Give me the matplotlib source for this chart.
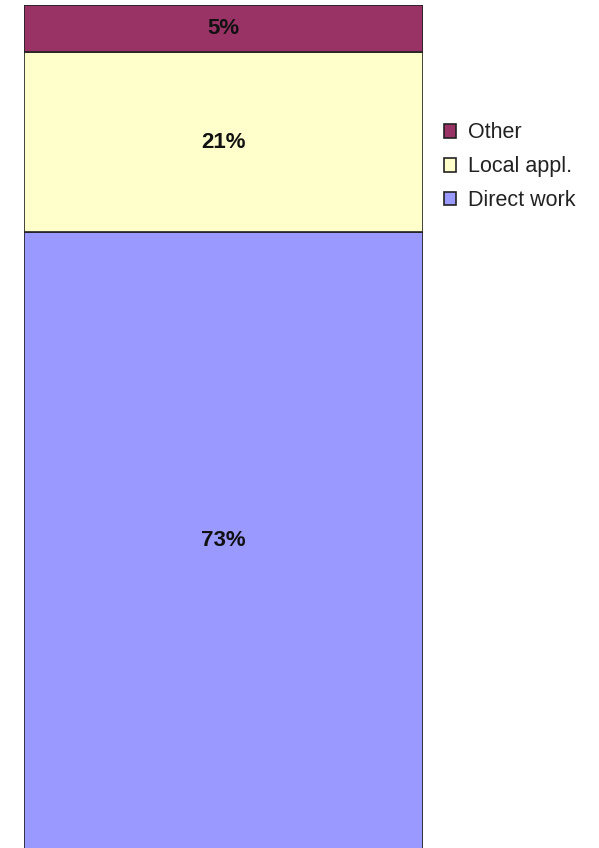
import matplotlib.pyplot as plt

categories = ["Direct work", "Local appl.", "Other"]
shares = [73.1, 21.3, 5.6]
labels = ["73%", "21%", "5%"]
colors = ["#9999FF", "#FFFFCC", "#993366"]

plt.rcParams['font.family'] = ['Liberation Sans', 'DejaVu Sans']

fig = plt.figure(figsize=(5.99, 8.48), dpi=100)
ax = fig.add_axes([24 / 599, -0.002, 399 / 599, 1 - 5 / 848 + 0.002])

bottom = 0
bars = []
for cat, val, lab, col in zip(categories, shares, labels, colors):
  b = ax.bar(0, val, width=1, bottom=bottom, color=col, edgecolor="#222222",
             linewidth=1.2, label=cat)
  bars.append(b)
  ax.text(0, bottom + val / 2, lab, ha="center", va="center",
          fontsize=16, fontweight="bold", color="#111111")
  bottom += val

ax.set_xlim(-0.5, 0.5)
ax.set_ylim(0, bottom)
ax.axis("off")

fig.legend(handles=bars[::-1], labels=categories[::-1], loc="upper left",
           bbox_to_anchor=(425 / 599, 1 - 103 / 848), frameon=False,
           fontsize=15.5, handlelength=0.55, handleheight=0.6,
           handletextpad=0.55, labelspacing=0.6, labelcolor="#222222")

fig.savefig("out.png", dpi=100)
